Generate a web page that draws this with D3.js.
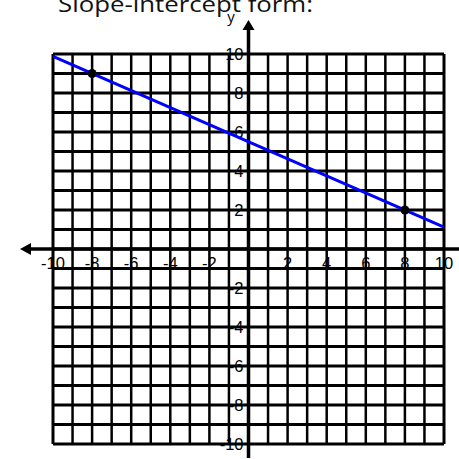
<!DOCTYPE html>
<html>
<head>
<meta charset="utf-8">
<script src="https://cdn.jsdelivr.net/npm/d3@7"></script>
<style>
html,body{margin:0;padding:0;background:#fff;}
svg{display:block;}
</style>
</head>
<body>
<svg id="chart" width="459" height="459"></svg>
<script>
const titleText = "Slope-intercept form:";
const axisLabelY = "y";
const gridValues = d3.range(-10, 11, 1);
const xTickValues = [-10, -8, -6, -4, -2, 2, 4, 6, 8, 10];
const yTickValues = [10, 8, 6, 4, 2, -2, -4, -6, -8, -10];
const lineX = [-10, 10];
const lineY = [9.875, 1.125];
const pointX = [-8, 8];
const pointY = [9, 2];

const svg = d3.select("#chart");
const x = d3.scaleLinear().domain([-10, 10]).range([53, 444]);
const y = d3.scaleLinear().domain([-10, 10]).range([444, 54]);

// title
svg.append("text")
  .attr("x", 58).attr("y", 12)
  .attr("font-family", "Open Sans, sans-serif")
  .attr("font-size", 22)
  .attr("textLength", 255)
  .attr("lengthAdjust", "spacingAndGlyphs")
  .attr("fill", "#111")
  .text(titleText);

// tick labels (drawn first, grid lines cross them)
svg.append("g").selectAll("text").data(xTickValues).join("text")
  .attr("x", d => x(d)).attr("y", y(0) + 20)
  .attr("text-anchor", "middle")
  .attr("font-family", "Liberation Sans, Arial, sans-serif")
  .attr("font-size", 16.5)
  .text(d => d);

svg.append("g").selectAll("text").data(yTickValues).join("text")
  .attr("x", x(0) - 5).attr("y", d => y(d))
  .attr("dy", "0.36em")
  .attr("text-anchor", "end")
  .attr("font-family", "Liberation Sans, Arial, sans-serif")
  .attr("font-size", 16.5)
  .text(d => d);

// grid
const grid = svg.append("g").attr("stroke", "#000");
grid.selectAll("line.v").data(gridValues).join("line")
  .attr("class", "v")
  .attr("x1", d => x(d)).attr("x2", d => x(d))
  .attr("y1", y(10)).attr("y2", y(-10))
  .attr("stroke-width", d => Math.abs(d) === 10 ? 3 : 2.5);
grid.selectAll("line.h").data(gridValues).join("line")
  .attr("class", "h")
  .attr("y1", d => y(d)).attr("y2", d => y(d))
  .attr("x1", x(-10)).attr("x2", x(10))
  .attr("stroke-width", d => Math.abs(d) === 10 ? 3.2 : 2.8);

// axes
svg.append("line")
  .attr("x1", 28).attr("x2", 459)
  .attr("y1", y(0)).attr("y2", y(0))
  .attr("stroke", "#000").attr("stroke-width", 3.5);
svg.append("path")
  .attr("d", `M20,${y(0)} L31,${y(0) - 6} L31,${y(0) + 6} Z`)
  .attr("fill", "#000");
svg.append("line")
  .attr("x1", x(0)).attr("x2", x(0))
  .attr("y1", 28).attr("y2", 458)
  .attr("stroke", "#000").attr("stroke-width", 3.5);
svg.append("path")
  .attr("d", `M${x(0)},20 L${x(0) - 6},30 L${x(0) + 6},30 Z`)
  .attr("fill", "#000");

svg.append("text")
  .attr("x", 231).attr("y", 22)
  .attr("text-anchor", "middle")
  .attr("font-family", "Open Sans, sans-serif")
  .attr("font-size", 15)
  .text(axisLabelY);

// line
svg.append("line")
  .attr("x1", x(lineX[0])).attr("y1", y(lineY[0]))
  .attr("x2", x(lineX[1])).attr("y2", y(lineY[1]))
  .attr("stroke", "#0000ff").attr("stroke-width", 3);

// points
svg.append("g").selectAll("circle").data(pointX).join("circle")
  .attr("cx", d => x(d))
  .attr("cy", (d, i) => y(pointY[i]))
  .attr("r", 4.5)
  .attr("fill", "#000");
</script>
</body>
</html>
